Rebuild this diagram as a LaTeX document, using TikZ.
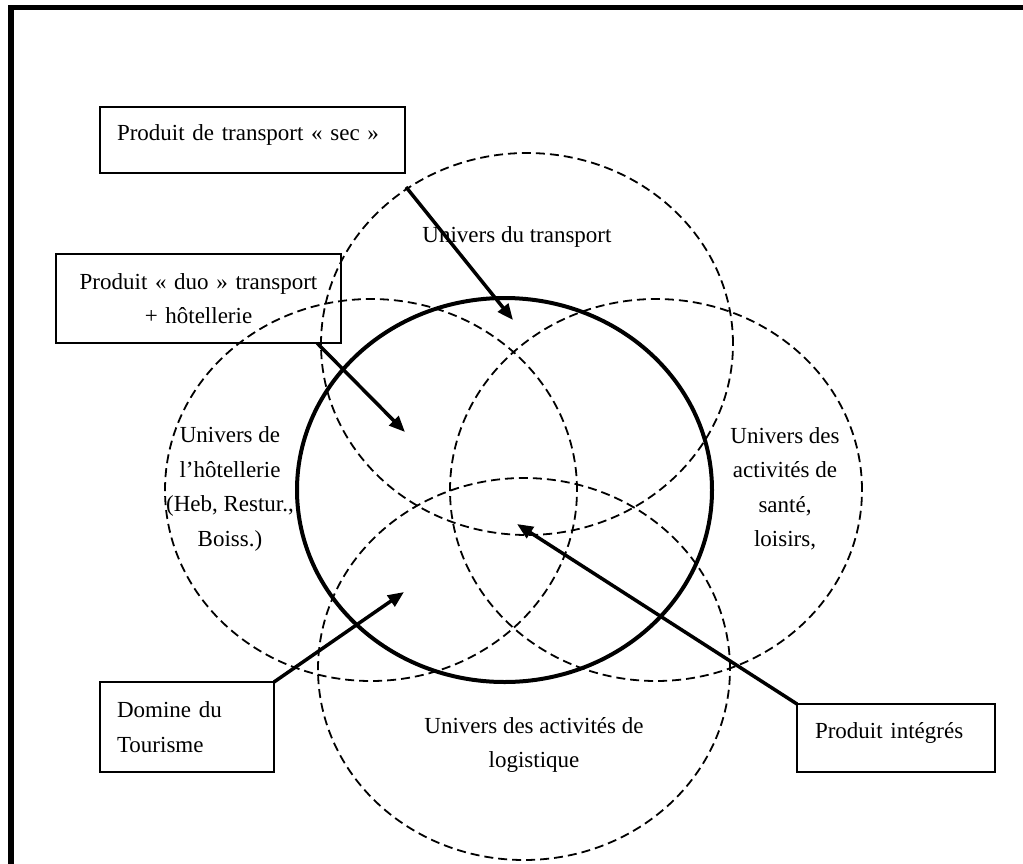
\documentclass[tikz,border=0pt]{standalone}
\usepackage{fontspec}
\setmainfont{Liberation Serif}
\usetikzlibrary{shapes.geometric,arrows.meta}
\begin{document}
\begin{tikzpicture}[x=1pt,y=-1pt,
  txt/.style={font=\fontsize{23}{34.5}\selectfont, align=center, inner sep=0pt},
  box/.style={draw, rectangle, line width=1.3pt, font=\fontsize{23}{34.5}\selectfont, inner sep=0pt, outer sep=0pt},
  univ/.style={ellipse, draw, line width=1.8pt, dash pattern=on 9pt off 5pt, minimum width=412pt, minimum height=382pt, inner sep=0pt, outer sep=0pt},
  domaine/.style={ellipse, draw, line width=4pt, minimum width=415pt, minimum height=384pt, inner sep=0pt, outer sep=0pt},
  arr/.style={line width=3.5pt, -{Triangle[length=16pt,width=13pt]}}
]
\useasboundingbox (0,0) rectangle (1023,863);
% frame
\draw[line width=5.5pt, line join=miter] (11,900) -- (11,7.5) -- (1060,7.5);

% universes
\node[univ] (transport) at (527,344) {};
\node[univ] (hotel) at (371,490) {};
\node[univ] (sante) at (656,490) {};
\node[univ] (logist) at (524,669) {};
\node[domaine] (tourisme) at (504.5,490) {};

% labels
\node[txt] (ltransport) at (517,237) {Univers du transport};
\node[txt] (lhotel) at (230,489) {Univers de\\l’hôtellerie\\(Heb, Restur.,\\Boiss.)};
\node[txt] (lsante) at (785,489) {Univers des\\activités de\\santé,\\loisirs,};
\node[txt] (llogist) at (534,745) {Univers des activités de\\logistique};

% boxes
\node[box, minimum width=305pt, minimum height=66pt, text width=271pt, align=left, text height=16pt, text depth=16pt] (sec) at (252.5,140) {Produit de transport « sec »};
\node[box, minimum width=285pt, minimum height=89pt, text width=260pt, align=center] (duo) at (198.5,298.5) {Produit « duo » transport\\+ hôtellerie};
\node[box, minimum width=174pt, minimum height=90pt, text width=140pt, align=left] (domine) at (187,727) {Domine du\\Tourisme};
\node[box, minimum width=198pt, minimum height=68pt, text width=162pt, align=left, text height=16pt, text depth=16pt] (integ) at (896,738) {Produit intégrés};

% arrow ends
\coordinate (secstart) at (406,187);
\coordinate (secend) at (513,320);
\coordinate (duostart) at (317,343);
\coordinate (duoend) at (405,432);
\coordinate (domend) at (404,592);
\coordinate (integend) at (517,524);

\draw[arr] (secstart) -- (secend);
\draw[arr] (duostart) -- (duoend);
\draw[arr] (domine.north east) -- (domend);
\draw[arr] (integ.north west) -- (integend);
\end{tikzpicture}
\end{document}
